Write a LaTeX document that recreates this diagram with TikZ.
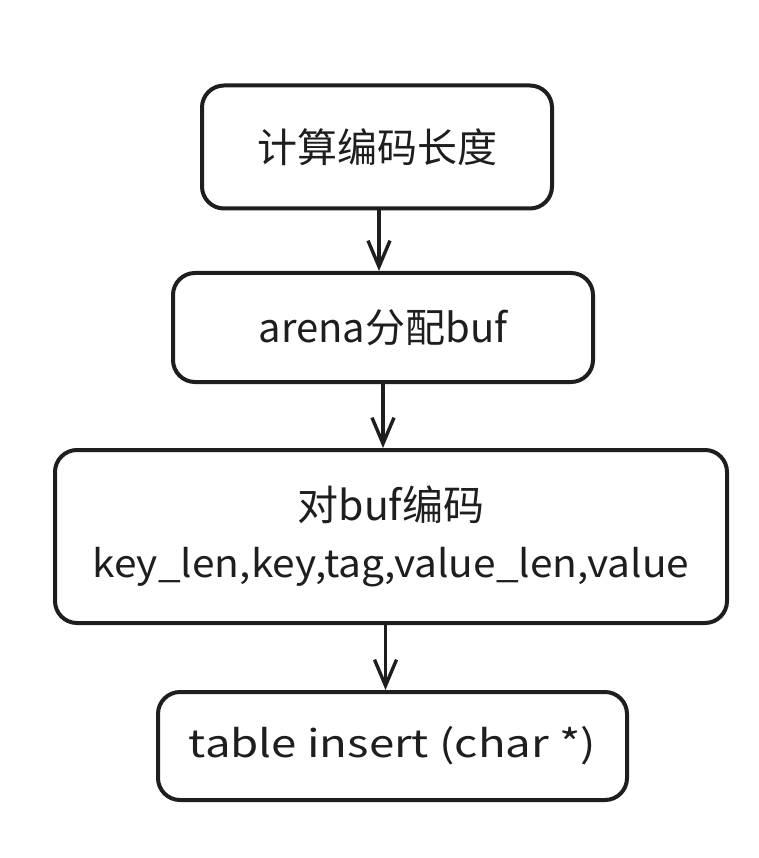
\documentclass[tikz,border=0pt]{standalone}
\usepackage{fontspec}
\setmainfont{Noto Sans CJK SC}
\usetikzlibrary{arrows.meta}
\definecolor{ink}{HTML}{1E1E1E}
\tikzset{
  stepbox/.style={draw=ink, line width=4pt, rounded corners=22pt, fill=white,
    text=ink, align=center, inner sep=0pt},
  flow/.style={draw=ink, line width=3.4pt,
    -{Straight Barb[length=26pt,width=22pt,line width=3.4pt]}},
}
\begin{document}
\begin{tikzpicture}[x=1pt,y=-1pt]
\useasboundingbox (0,0) rectangle (759,858);
\fill[white] (0,0) rectangle (759,858);
\node[stepbox, minimum width=350pt, minimum height=123pt, font=\fontsize{40}{44}\selectfont] (b1) at (377,147) {计算编码长度};
\node[stepbox, minimum width=420pt, minimum height=109pt, font=\fontsize{40}{44}\selectfont] (b2) at (383,327.5) {arena分配buf};
\node[stepbox, minimum width=672pt, minimum height=173pt, font=\fontsize{38}{57}\selectfont] (b3) at (391,536.5) {\fontsize{41}{57}\selectfont 对buf编码\\\scalebox{1.07}[1]{key\_len,key,tag,value\_len,value}};
\node[stepbox, minimum width=469pt, minimum height=108pt, font=\fontsize{38}{44}\selectfont] (b4) at (392.5,746) {\scalebox{1.2}[1]{table insert (char *)}};
\draw[flow] ([xshift=2pt]b1.south) -- ([xshift=2pt]b1.south |- b2.north);
\draw[flow] (b2.south) -- (b2.south |- b3.north);
\draw[flow] ([xshift=-7pt]b4.north |- b3.south) -- ([xshift=-7pt]b4.north);
\end{tikzpicture}
\end{document}
